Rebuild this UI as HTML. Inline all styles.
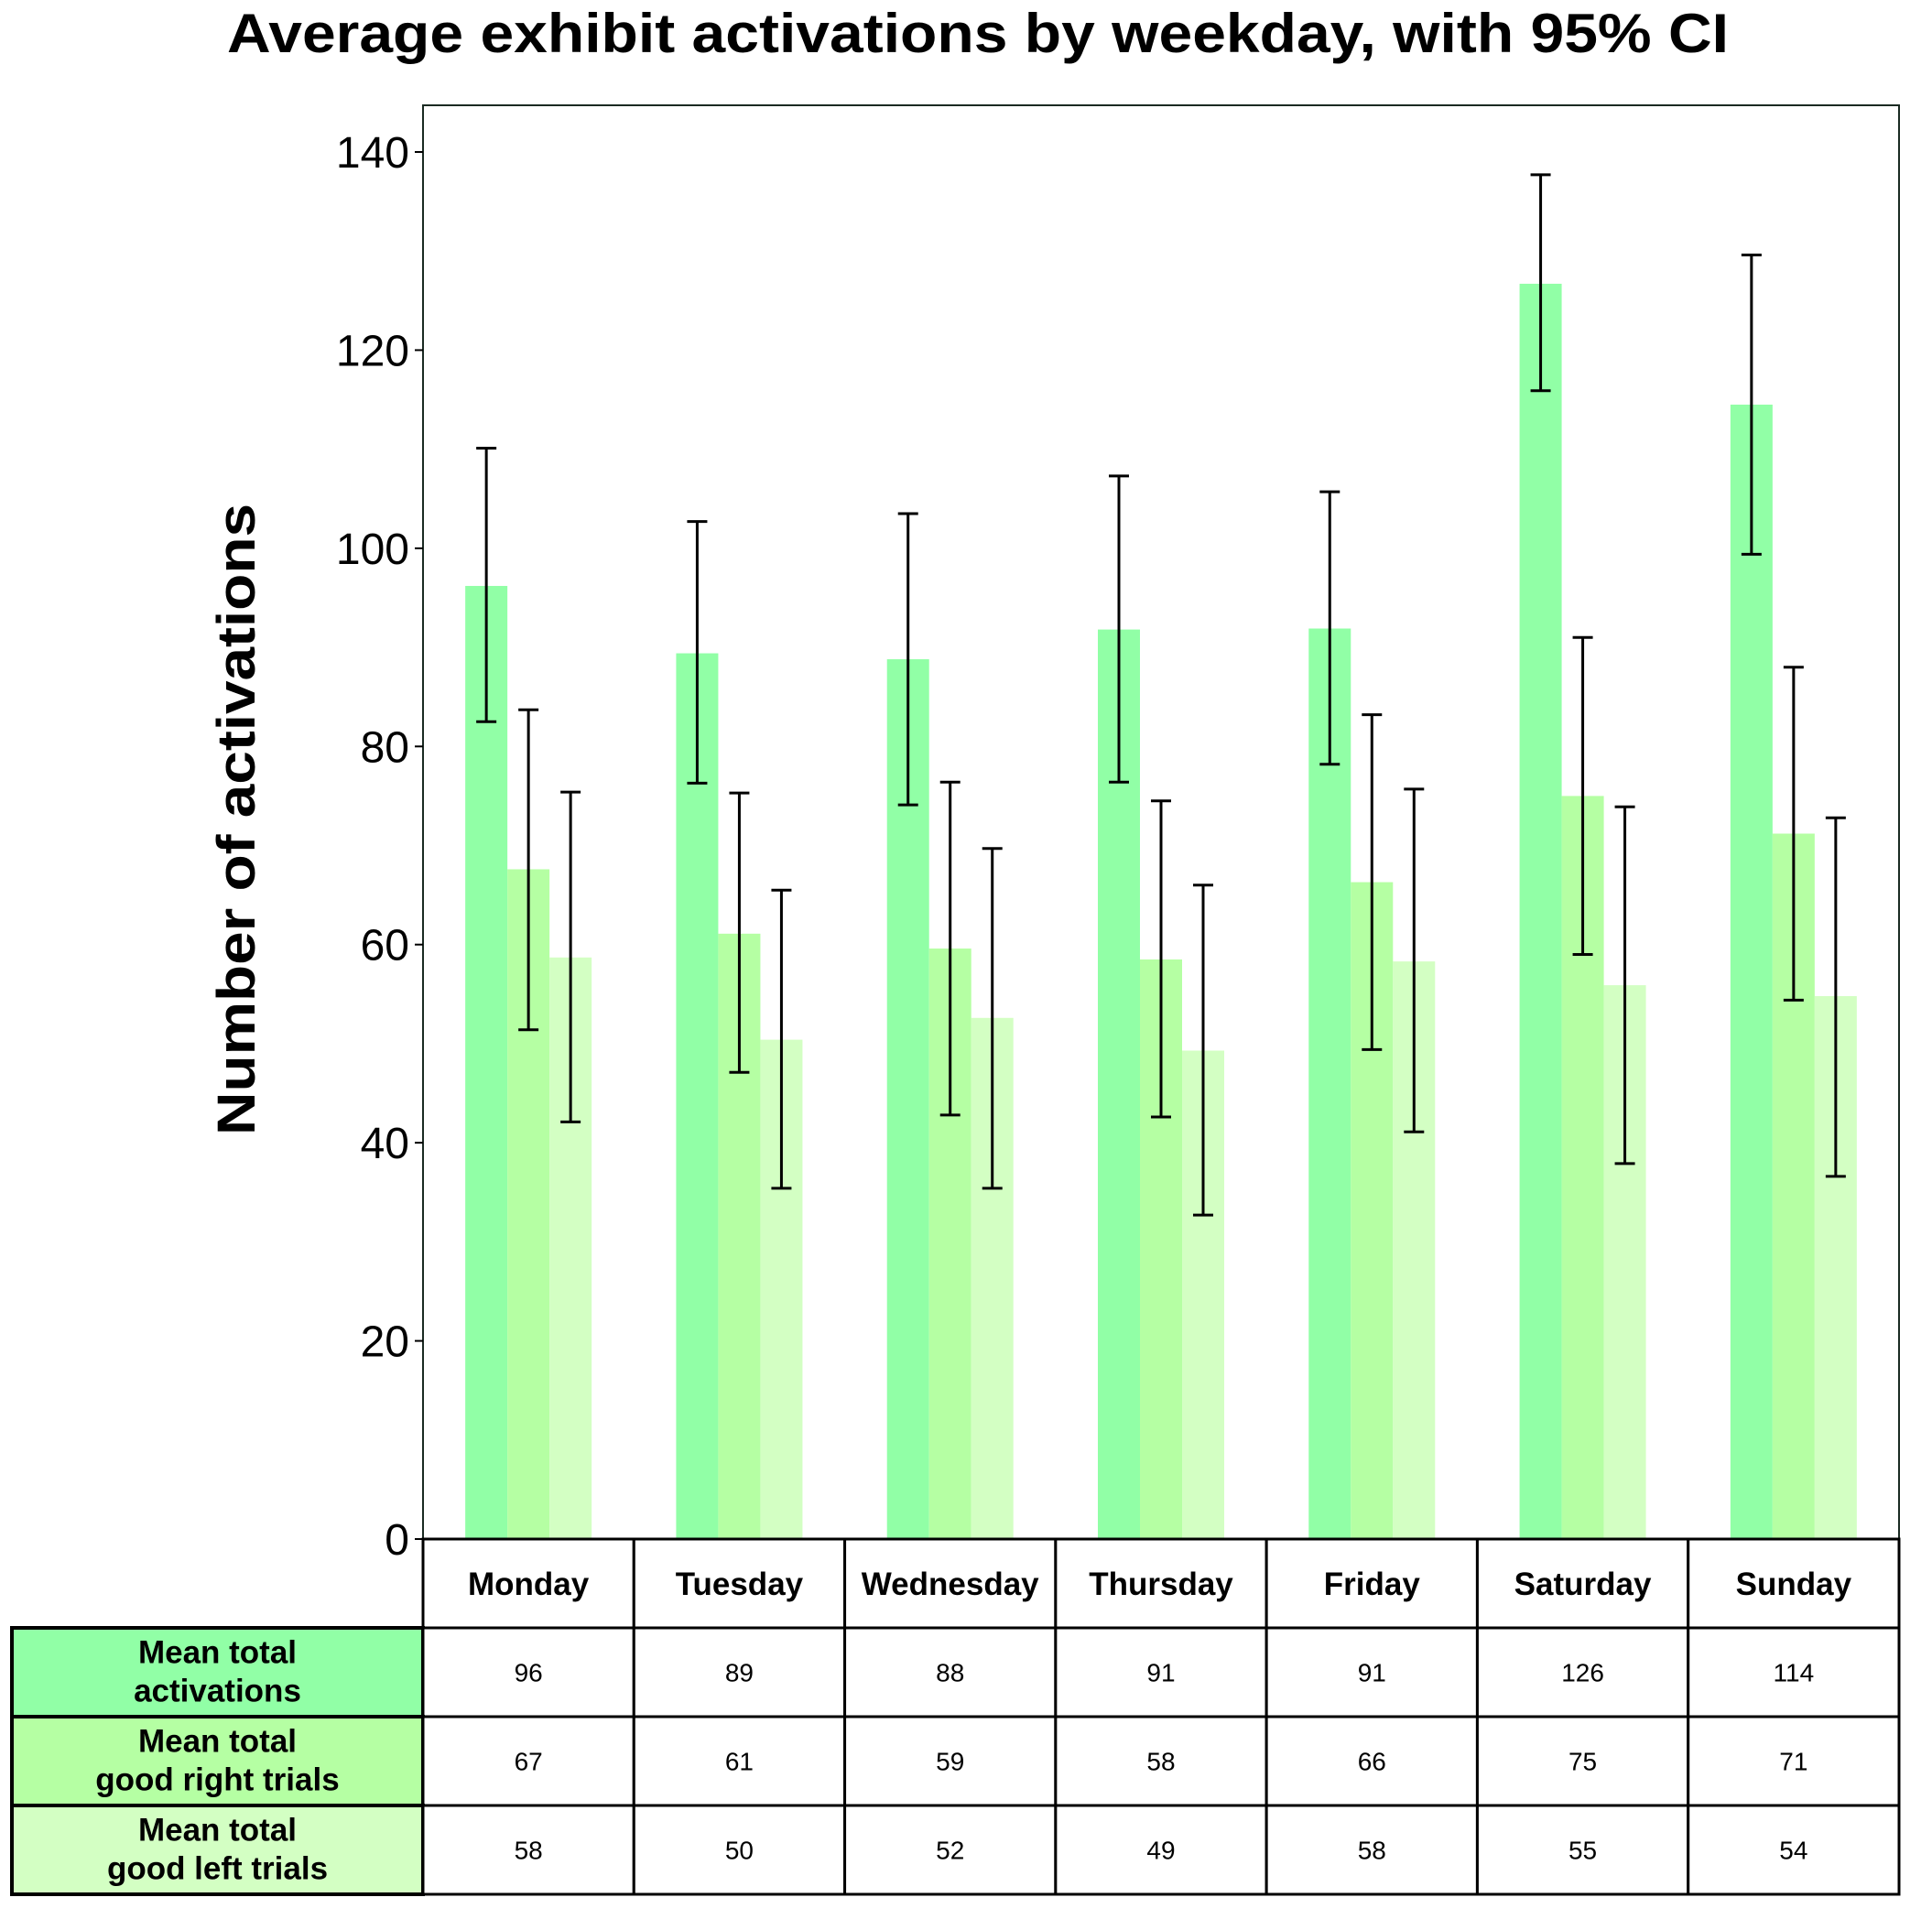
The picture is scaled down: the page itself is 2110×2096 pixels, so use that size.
<!DOCTYPE html>
<html><head><meta charset="utf-8">
<style>html,body{margin:0;padding:0;background:#fff;}svg{display:block;}</style></head>
<body>
<svg id="chart" width="2110" height="2096" viewBox="0 0 2110 2096" xmlns="http://www.w3.org/2000/svg" font-family="Liberation Sans, DejaVu Sans, sans-serif">
<text x="1068" y="57" font-size="60" font-weight="bold" text-anchor="middle" textLength="1640" lengthAdjust="spacingAndGlyphs">Average exhibit activations by weekday, with 95% CI</text>
<text transform="translate(278,895) rotate(-90)" font-size="58" font-weight="bold" text-anchor="middle" textLength="690" lengthAdjust="spacingAndGlyphs">Number of activations</text>
<g id="plot"></g>
<g id="table"></g>
</svg>
<script>
const days = ["Monday","Tuesday","Wednesday","Thursday","Friday","Saturday","Sunday"];
const meanTotal = [96.2, 89.4, 88.8, 91.8, 91.9, 126.7, 114.5];
const totalLo = [82.5, 76.3, 74.1, 76.4, 78.2, 115.9, 99.4];
const totalHi = [110.1, 102.7, 103.5, 107.3, 105.7, 137.7, 129.6];
const meanRight = [67.6, 61.1, 59.6, 58.5, 66.3, 75.0, 71.2];
const rightLo = [51.4, 47.1, 42.8, 42.6, 49.4, 59.0, 54.4];
const rightHi = [83.7, 75.3, 76.4, 74.5, 83.2, 91.0, 88.0];
const meanLeft = [58.7, 50.4, 52.6, 49.3, 58.3, 55.9, 54.8];
const leftLo = [42.1, 35.4, 35.4, 32.7, 41.1, 37.9, 36.6];
const leftHi = [75.4, 65.5, 69.7, 66.0, 75.7, 73.9, 72.8];
const tableTotal = ["96","89","88","91","91","126","114"];
const tableRight = ["67","61","59","58","66","75","71"];
const tableLeft = ["58","50","52","49","58","55","54"];
const yTicks = [0,20,40,60,80,100,120,140];
const rowLabels = [["Mean total","activations"],["Mean total","good right trials"],["Mean total","good left trials"]];

const NS="http://www.w3.org/2000/svg";
const L=462,R=2074,T=115,B=1681;
const pxPerUnit=(B-166)/140;
const y=v=>B-v*pxPerUnit;
const colW=(R-L)/days.length;
const xc=i=>L+colW*(i+0.5);
const barW=46;
const colors=["#91ffa6","#b5ffa3","#d3ffc3"];
function mk(tag,attrs,parent){const e=document.createElementNS(NS,tag);for(const k in attrs)e.setAttribute(k,attrs[k]);parent.appendChild(e);return e;}
const plot=document.getElementById('plot');
const table=document.getElementById('table');
const series=[[meanTotal,totalLo,totalHi,'total'],[meanRight,rightLo,rightHi,'right'],[meanLeft,leftLo,leftHi,'left']];
series.forEach((s,si)=>{
  days.forEach((d,i)=>{
    const x=xc(i)+(si-1)*barW-barW/2;
    const r=mk('rect',{x:x,y:y(s[0][i]),width:barW,height:B-y(s[0][i]),fill:colors[si]},plot);
    
    
  });
});
series.forEach((s,si)=>{
  days.forEach((d,i)=>{
    const cx=xc(i)+(si-1)*barW;
    const g=mk('g',{stroke:'#000','stroke-width':3},plot);
    
    
    mk('line',{x1:cx,x2:cx,y1:y(s[1][i]),y2:y(s[2][i])},g);
    mk('line',{x1:cx-11,x2:cx+11,y1:y(s[1][i]),y2:y(s[1][i])},g);
    mk('line',{x1:cx-11,x2:cx+11,y1:y(s[2][i]),y2:y(s[2][i])},g);
  });
});
const frame=mk('rect',{x:L,y:T,width:R-L,height:B-T,fill:'none',stroke:'#1a2a22','stroke-width':2},plot);


yTicks.forEach(t=>{
  const tk=mk('line',{x1:L-9,x2:L,y1:y(t),y2:y(t),stroke:'#000','stroke-width':2},plot);
  
  
  const tl=mk('text',{x:L-15,y:y(t)+17,'font-size':48,'text-anchor':'end'},plot);
  tl.textContent=t;
  
  
});
// table
const rowsY=[1681,1778,1875,1972,2069];
days.forEach((d,i)=>{
  const c=mk('rect',{x:L+colW*i,y:rowsY[0],width:colW,height:rowsY[1]-rowsY[0],fill:'#fff',stroke:'#000','stroke-width':3},table);
  
  
  const t=mk('text',{x:xc(i),y:rowsY[0]+61,'font-size':35,'font-weight':'bold','text-anchor':'middle'},table);
  t.textContent=d;
  
  
});
const tableVals=[tableTotal,tableRight,tableLeft];
tableVals.forEach((vals,ri)=>{
  const y0=rowsY[ri+1],h=rowsY[ri+2]-y0;
  const lc=mk('rect',{x:13,y:y0,width:L-13,height:h,fill:colors[ri],stroke:'#000','stroke-width':4},table);
  
  
  rowLabels[ri].forEach((ln,li)=>{
    const t=mk('text',{x:(13+L)/2,y:y0+h/2+(li===0?-10:32),'font-size':35,'font-weight':'bold','text-anchor':'middle'},table);
    t.textContent=ln;
    
    
  });
  vals.forEach((v,i)=>{
    const c=mk('rect',{x:L+colW*i,y:y0,width:colW,height:h,fill:'#fff',stroke:'#000','stroke-width':3},table);
    
    
    const t=mk('text',{x:xc(i),y:y0+h/2+10,'font-size':28,'text-anchor':'middle'},table);
    t.textContent=v;
    
    
  });
});
</script>
</body></html>
